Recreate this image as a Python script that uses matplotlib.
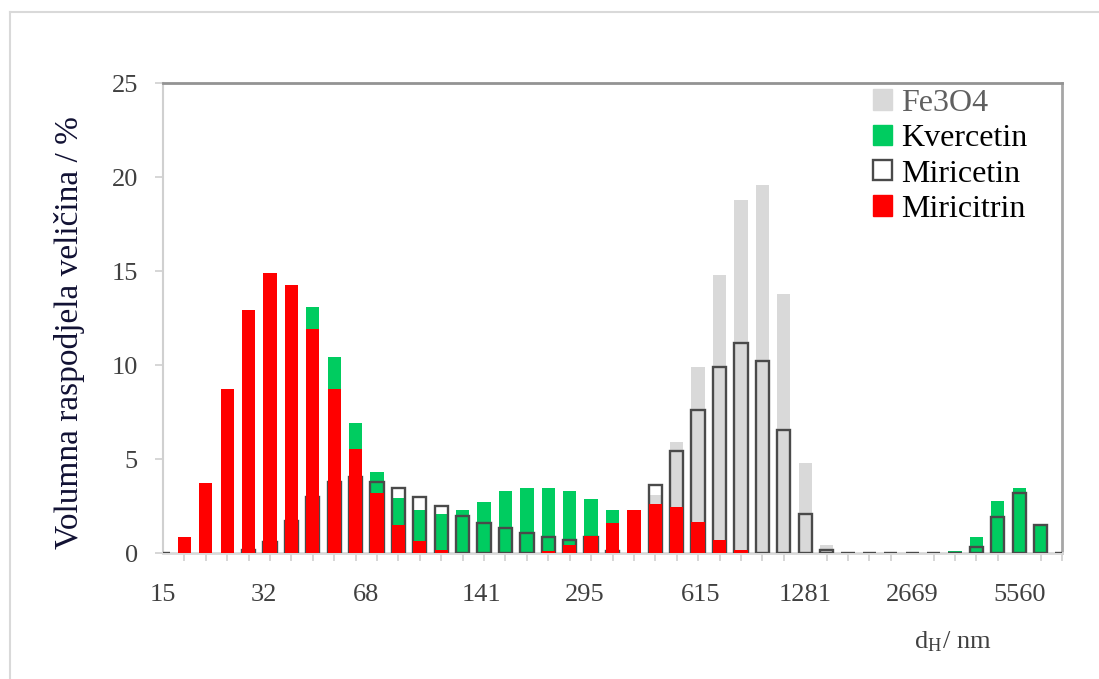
import numpy as np
import matplotlib
matplotlib.use('Agg')
import matplotlib.pyplot as plt
from matplotlib.patches import Patch
from matplotlib.lines import Line2D

plt.rcParams['font.family'] = ['Liberation Serif', 'DejaVu Serif']
plt.rcParams['mathtext.fontset'] = 'stix'

# size classes (43 categories, log spaced), only every 5th is labelled
n_cat = 43
tick_labels = ['15', '32', '68', '141', '295', '615', '1281', '2669', '5560']

# volume distribution / %  (index = size class)
fe3o4 = [0]*23 + [3.1, 5.9, 9.9, 14.8, 18.8, 19.6, 13.8, 4.8, 0.4] + [0]*11
kvercetin = ([0]*7 + [13.1, 10.4, 6.9, 4.3, 2.9, 2.3, 2.1, 2.3, 2.7, 3.3, 3.45, 3.45,
              3.3, 2.85, 2.3, 1.8, 1.0, 0.5] + [0]*12 + [0.1, 0.85, 2.75, 3.45, 1.5, 0])
miricetin = ([0]*4 + [0.15, 0.6, 1.7, 3.0, 3.8, 4.05, 3.8, 3.45, 3.0, 2.5, 1.95, 1.6,
              1.35, 1.05, 0.87, 0.7, 0.85, 0.1, 0, 3.6, 5.4, 7.6, 9.9, 11.15, 10.2,
              6.55, 2.1, 0.15] + [0]*6 + [0.3, 1.9, 3.2, 1.5, 0])
miricitrin = ([0, 0.85, 3.75, 8.75, 12.95, 14.9, 14.25, 11.9, 8.75, 5.55, 3.2, 1.5,
               0.65, 0.18, 0, 0, 0, 0, 0.1, 0.45, 0.9, 1.6, 2.3, 2.6, 2.45, 1.65,
               0.7, 0.15] + [0]*15)

x = np.arange(n_cat)
w = 0.62
grey = '#D9D9D9'
green = '#00CC60'
red = '#FF0000'
edge = '#4A4A4A'

fig = plt.figure(figsize=(10.99, 6.79), dpi=100)
ax = fig.add_axes([163/1099, 1-553/679, (1062-163)/1099, (553-83)/679])

ax.bar(x, fe3o4, w, color=grey, zorder=1)
ax.bar(x, kvercetin, w, color=green, zorder=2)
ax.bar(x, miricetin, w, facecolor='none', edgecolor=edge, linewidth=1.7, zorder=3)
ax.bar(x, miricitrin, w, color=red, zorder=4)

ax.set_xlim(0, n_cat-1)
ax.set_ylim(0, 25)
ax.set_yticks([0, 5, 10, 15, 20, 25])
ax.tick_params(axis='y', length=6, width=1.2, color='#D0D0D0', pad=12,
               labelsize=19, labelcolor='#404040')

# labels sit roughly on every 5th class
ax.set_xticks([0, 4.7, 9.5, 14.9, 19.7, 25.1, 30, 35, 40])
ax.set_xticklabels(tick_labels)
ax.set_xticks(x, minor=True)
ax.tick_params(axis='x', which='major', length=0, pad=22, labelsize=19,
               labelcolor='#404040')
ax.tick_params(axis='x', which='minor', length=6, width=1.2, color='#D0D0D0')

ax.spines['left'].set_color('#D0D0D0')
ax.spines['left'].set_linewidth(1.5)
ax.spines['bottom'].set_color('#D9D9D9')
ax.spines['bottom'].set_linewidth(2)
ax.spines['top'].set_color('#939393')
ax.spines['top'].set_linewidth(2)
ax.spines['right'].set_color('#A6A6A6')
ax.spines['right'].set_linewidth(2)

handles = [Patch(facecolor=grey, edgecolor=grey),
           Patch(facecolor=green, edgecolor=green),
           Patch(facecolor='white', edgecolor=edge, linewidth=1.7),
           Patch(facecolor=red, edgecolor=red)]
leg = ax.legend(handles, ['Fe3O4', 'Kvercetin', 'Miricetin', 'Miricitrin'],
                loc='upper left', bbox_to_anchor=(0.775, 1.015), frameon=False,
                fontsize=23, handlelength=0.6, handleheight=0.6,
                handletextpad=0.3, labelspacing=0.2, borderaxespad=0)
leg.get_texts()[0].set_color('#606060')

fig.text(70/1099, 1-333/679, 'Volumna raspodjela veličina / %', rotation=90,
         ha='center', va='center', fontsize=24, color='#111133')
fig.text(953/1099, 1-642/679, r'd$_\mathregular{H}$/ nm', ha='center', va='center',
         fontsize=19, color='#404040')

# outer chart frame (top and left edges visible)
fig.add_artist(Line2D([10/1099, 1], [1-12/679, 1-12/679], color='#D9D9D9', lw=1.5))
fig.add_artist(Line2D([10/1099, 10/1099], [0, 1-12/679], color='#D9D9D9', lw=1.5))

fig.savefig('out.png', dpi=100, facecolor='white')
